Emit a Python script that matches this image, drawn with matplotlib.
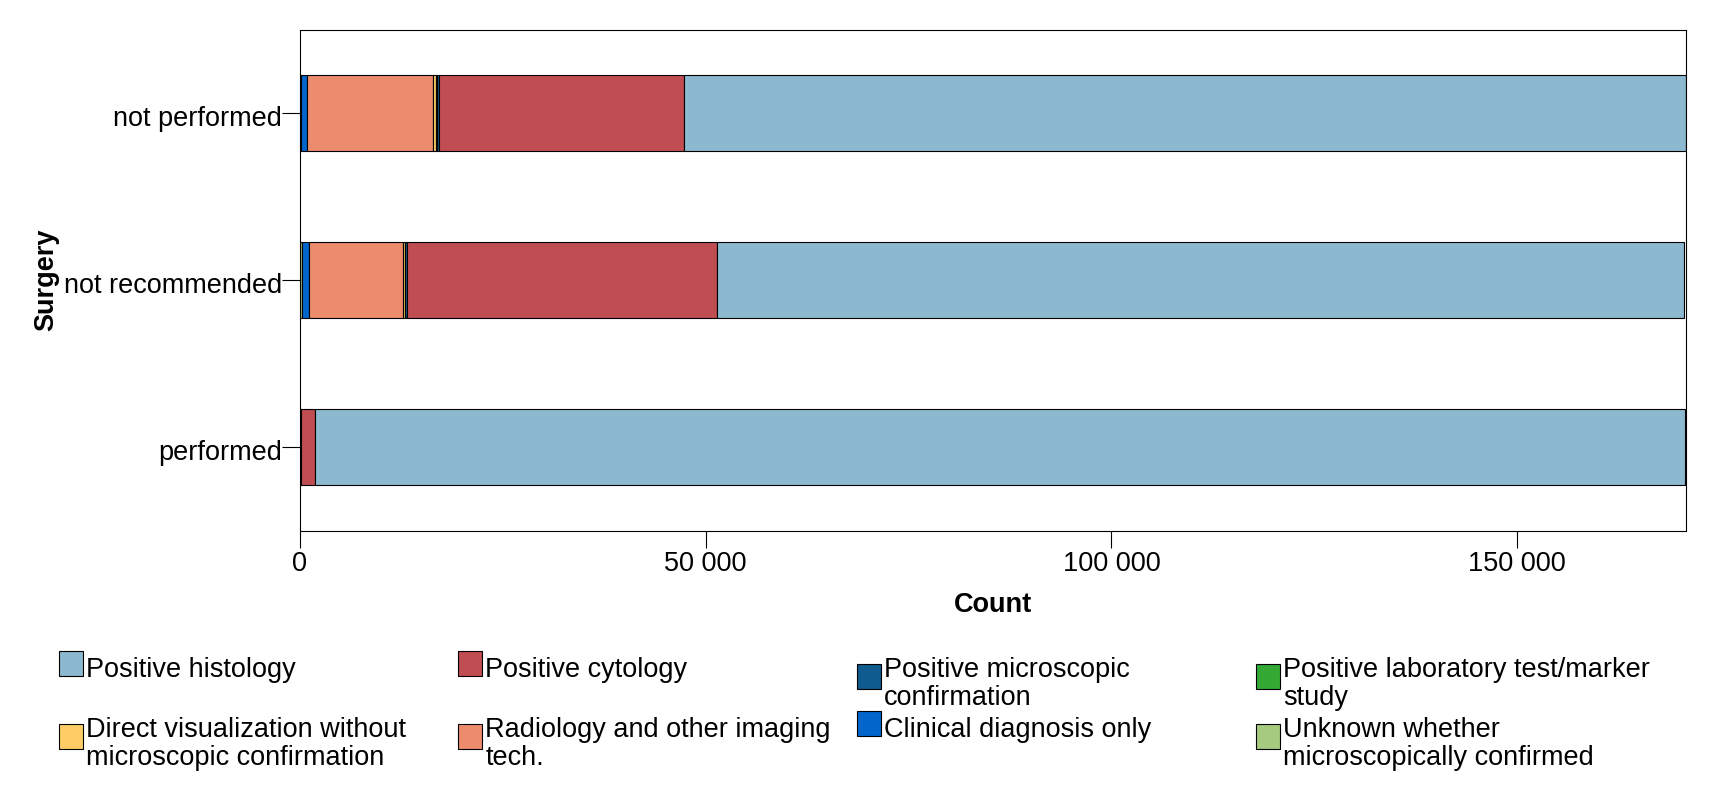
import matplotlib
matplotlib.use('Agg')
import matplotlib.pyplot as plt
import matplotlib.transforms as mtransforms
from matplotlib.patches import Rectangle
from matplotlib.ticker import FuncFormatter
import numpy as np

plt.rcParams['font.family'] = ['Liberation Sans', 'DejaVu Sans']

# categories (bottom to top)
surgery = ['performed', 'not recommended', 'not performed']

# segments, stacked left to right
unknown_conf = [20, 290, 150]
clinical_only = [40, 860, 740]
radiology = [60, 11580, 15450]
direct_vis = [10, 150, 410]
lab_marker = [10, 100, 100]
pos_microscopic = [30, 165, 330]
pos_cytology = [1700, 38290, 30150]
pos_histology = [168800, 119110, 123470]

segments = [
    ('Unknown whether\nmicroscopically confirmed', unknown_conf, '#A6CB80'),
    ('Clinical diagnosis only', clinical_only, '#0066CC'),
    ('Radiology and other imaging\ntech.', radiology, '#EC8C6C'),
    ('Direct visualization without\nmicroscopic confirmation', direct_vis, '#FFCC66'),
    ('Positive laboratory test/marker\nstudy', lab_marker, '#33A833'),
    ('Positive microscopic\nconfirmation', pos_microscopic, '#0F5A8E'),
    ('Positive cytology', pos_cytology, '#BF4D52'),
    ('Positive histology', pos_histology, '#8CB8D0'),
]

FS = 19.5
W, H = 1715, 809
fig = plt.figure(figsize=(W / 100, H / 100), dpi=100)
ax = fig.add_axes([300 / W, 1 - 530.5 / H, 1386 / W, 501 / H])

y = np.arange(len(surgery))
left = np.zeros(len(surgery))
for name, vals, col in segments:
    ax.barh(y, vals, left=left, height=0.45, color=col,
            edgecolor='black', linewidth=0.8)
    left += np.array(vals)

ax.set_xlim(0, left.max())
ax.set_ylim(-0.5, 2.5)
ax.set_yticks(y)
ax.set_yticklabels(surgery)
ax.set_xticks([0, 50000, 100000, 150000])
ax.xaxis.set_major_formatter(FuncFormatter(lambda v, p: f"{v:,.0f}".replace(',', ' ')))
ax.tick_params(axis='x', length=12.5, width=0.8, pad=2, labelsize=FS)
ax.tick_params(axis='y', length=13, width=0.8, pad=0, labelsize=FS)
for s in ax.spines.values():
    s.set_linewidth(0.8)

# y tick labels sit a little below their ticks in the original
shift = mtransforms.ScaledTranslation(0, -3 / 100, fig.dpi_scale_trans)
for lab in ax.get_yticklabels():
    lab.set_transform(lab.get_transform() + shift)

ax.set_xlabel('Count', fontsize=FS, fontweight='bold', labelpad=11)
ax.set_ylabel('Surgery', fontsize=FS, fontweight='bold', labelpad=3)

# legend, laid out by hand: 4 columns x 2 rows
order = ['Positive histology', 'Positive cytology',
         'Positive microscopic\nconfirmation', 'Positive laboratory test/marker\nstudy',
         'Direct visualization without\nmicroscopic confirmation',
         'Radiology and other imaging\ntech.', 'Clinical diagnosis only',
         'Unknown whether\nmicroscopically confirmed']
colors = {name: col for name, vals, col in segments}
col_x = [59, 458.5, 857, 1256]
row_top = [657, 717]
for i, name in enumerate(order):
    r, c = divmod(i, 4)
    nlines = name.count('\n') + 1
    base = row_top[r] + 19
    pc = base + 13 * (nlines - 1) - 12.5
    px = col_x[c]
    fig.patches.append(Rectangle((px / W, 1 - (pc + 12.5) / H), 24 / W, 25 / H,
                                 transform=fig.transFigure, facecolor=colors[name],
                                 edgecolor='black', linewidth=0.8))
    fig.text((px + 27) / W, 1 - row_top[r] / H, name, fontsize=FS,
             ha='left', va='top', linespacing=1.12)

fig.savefig('out.png', dpi=100, facecolor='white')
